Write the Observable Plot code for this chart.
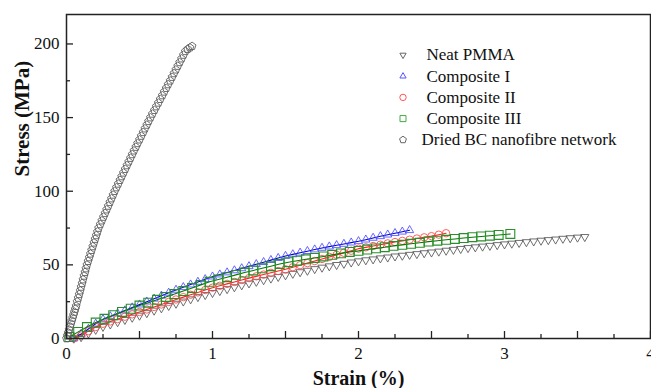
<!DOCTYPE html>
<html>
<head>
<meta charset="utf-8">
<script src="https://cdn.jsdelivr.net/npm/d3@7"></script>
<script src="https://cdn.jsdelivr.net/npm/@observablehq/plot@0.6"></script>
<style>
  html, body { margin: 0; padding: 0; background: #fff; }
  #chart { width: 651px; height: 388px; overflow: hidden; }
</style>
</head>
<body>
<div id="chart"></div>
<script>
// ---------- data ----------
const seriesNames = ["Neat PMMA", "Composite I", "Composite II", "Composite III", "Dried BC nanofibre network"];

const neatStrain = [0.05,0.10,0.15,0.20,0.25,0.30,0.35,0.40,0.45,0.50,0.55,0.60,0.65,0.70,0.75,0.80,0.85,0.90,0.95,1.00,
  1.05,1.10,1.15,1.20,1.25,1.30,1.35,1.40,1.45,1.50,1.55,1.60,1.65,1.70,1.75,1.80,1.85,1.90,1.95,2.00,
  2.05,2.10,2.15,2.20,2.25,2.30,2.35,2.40,2.45,2.50,2.55,2.60,2.65,2.70,2.75,2.80,2.85,2.90,2.95,3.00,
  3.05,3.10,3.15,3.20,3.25,3.30,3.35,3.40,3.45,3.50,3.55];
const neatStress = [0,1,3.5,6,8,9.6,11.2,12.7,14.2,15.6,17.3,19,20.6,22.2,23.7,25.2,26.7,28.2,29.6,31,
  32.3,33.6,34.9,36.2,37.5,38.6,39.7,40.8,41.9,43,44,45.1,46.1,47.2,48.2,49.1,50,50.8,51.7,52.5,
  53.2,53.8,54.5,55.1,55.8,56.3,56.9,57.4,58,58.5,59.1,59.7,60.3,60.9,61.5,62,62.5,63,63.5,64,
  64.5,65,65.5,66,66.5,66.9,67.3,67.8,68.2,68.6,69];

const c1Strain = [0.05,0.10,0.15,0.20,0.25,0.30,0.35,0.40,0.45,0.50,0.55,0.60,0.65,0.70,0.75,0.80,0.85,0.90,0.95,1.00,
  1.05,1.10,1.15,1.20,1.25,1.30,1.35,1.40,1.45,1.50,1.55,1.60,1.65,1.70,1.75,1.80,1.85,1.90,1.95,2.00,
  2.05,2.10,2.15,2.20,2.25,2.30,2.35];
const c1Stress = [0,3,6.5,10,13,15,17,19,21,23,25,27,29,31,33,34.8,36.6,38.4,40.2,42,
  43.4,44.8,46.2,47.6,49,50.4,51.8,53.2,54.6,56,57.1,58.2,59.3,60.4,61.5,62.4,63.3,64.2,65.1,66,
  67.1,68.3,69.4,70.5,71.5,72.5,73.5];

const c2Strain = [0.05,0.10,0.15,0.20,0.25,0.30,0.35,0.40,0.45,0.50,0.55,0.60,0.65,0.70,0.75,0.80,0.85,0.90,0.95,1.00,
  1.05,1.10,1.15,1.20,1.25,1.30,1.35,1.40,1.45,1.50,1.55,1.60,1.65,1.70,1.75,1.80,1.85,1.90,1.95,2.00,
  2.05,2.10,2.15,2.20,2.25,2.30,2.35,2.40,2.45,2.50,2.55,2.60];
const c2Stress = [0,2,5,7.8,10,11.6,13.2,14.8,16.4,18,19.7,21.4,23.1,24.8,26.5,28.1,29.7,31.3,32.9,34.5,
  35.8,37.1,38.4,39.7,41,42.2,43.4,44.6,45.8,47,48.4,49.8,51.2,52.6,54,55.4,56.8,58.2,59.6,61,
  61.9,62.8,63.7,64.6,65.5,66.3,67.1,67.9,68.7,69.5,70.5,71.5];

const c3Strain = [0.02,0.08,0.14,0.20,0.26,0.32,0.38,0.44,0.50,0.56,0.62,0.68,0.74,0.80,0.86,0.92,0.98,1.04,1.10,1.16,
  1.22,1.28,1.34,1.40,1.46,1.52,1.58,1.64,1.70,1.76,1.82,1.88,1.94,2.00,2.06,2.12,2.18,2.24,2.30,2.36,
  2.42,2.48,2.54,2.60,2.66,2.72,2.78,2.84,2.90,2.96,3.04];
const c3Stress = [1,4.5,7.8,10.8,13.4,15.8,18,20.2,22.4,24.3,26.3,28.2,30.2,32.2,34.3,36.4,38.5,40,41.6,43.2,
  44.8,46.2,47.7,49.1,50.6,51.8,52.8,53.8,54.7,55.7,56.8,57.8,58.8,59.5,60.4,61.2,62,62.9,63.6,64.3,
  65,65.8,66.4,67,67.6,68.2,68.8,69.3,69.8,70.3,71];

const bcStrain = [0.000,0.005,0.012,0.018,0.024,0.030,0.036,0.042,0.048,0.054,0.060,0.066,0.073,0.080,0.087,0.094,0.100,0.107,0.113,0.120,
  0.127,0.133,0.140,0.148,0.156,0.164,0.172,0.180,0.188,0.196,0.204,0.212,0.220,0.231,0.242,0.253,0.264,0.275,0.286,0.297,
  0.308,0.319,0.330,0.342,0.354,0.366,0.378,0.390,0.402,0.414,0.426,0.438,0.450,0.462,0.475,0.487,0.500,0.512,0.525,0.537,
  0.550,0.562,0.575,0.588,0.602,0.615,0.629,0.642,0.656,0.669,0.683,0.696,0.710,0.723,0.736,0.749,0.762,0.775,0.788,0.801,
  0.814,0.830,0.845,0.860];
const bcStress = [0,2,4,6,8,10,12,14,16,18,20,22,25,27.5,30,32.5,35,37.5,40,42.5,
  45,47.5,50,52.5,55,57.5,60,62.5,65,67.5,70,72.5,75,77.5,80,82.5,85,87.5,90,92.5,
  95,97.5,100,102.5,105,107.5,110,112.5,115,117.5,120,122.5,125,127.5,130,132.5,135,137.5,140,142.5,
  145,147.5,150,152.5,155,157.5,160,162.5,165,167.5,170,172.5,175,177.5,180,182.5,185,187.5,190,192.5,
  195,196.5,197.5,198.5];

const xLabelTicks = [0, 1, 2, 3, 4];
const xMajorTicks = [0, 0.5, 1, 1.5, 2, 2.5, 3, 3.5, 4];
const xMinorTicks = [0.25, 0.75, 1.25, 1.75, 2.25, 2.75, 3.25, 3.75];
const yLabelTicks = [0, 50, 100, 150, 200];
const yMinorTicks = [25, 75, 125, 175];

// ---------- helpers ----------
const zip = (xs, ys) => xs.map((x, i) => ({strain: x, stress: ys[i]}));
const neat = zip(neatStrain, neatStress);
const c1 = zip(c1Strain, c1Stress);
const c2 = zip(c2Strain, c2Stress);
const c3 = zip(c3Strain, c3Stress);
const bc = zip(bcStrain, bcStress);

function polygon(n, rot) {
  return {
    draw(ctx, size) {
      const r = Math.sqrt(size / Math.PI);
      for (let i = 0; i < n; ++i) {
        const a = rot + i * 2 * Math.PI / n;
        const px = r * Math.sin(a), py = -r * Math.cos(a);
        if (i === 0) ctx.moveTo(px, py); else ctx.lineTo(px, py);
      }
      ctx.closePath();
    }
  };
}
const triDown = polygon(3, Math.PI);
const triUp = polygon(3, 0);
const pentagon = polygon(5, 0);

const styles = [
  {data: neat, symbol: triDown, r: 4.7, stroke: "#555", sw: 0.85, line: null},
  {data: c1, symbol: triUp, r: 4.7, stroke: "#4a4aff", sw: 0.85, line: "#0000d0"},
  {data: c2, symbol: "circle", r: 3.7, stroke: "#ff4545", sw: 0.85, line: "#ff2020"},
  {data: c3, symbol: "square", r: 5, stroke: "#2a8f2a", sw: 1.1, line: "#007a00"},
  {data: bc, symbol: pentagon, r: 4.1, stroke: "#5f5f5f", sw: 0.9, line: null}
];

const font = "'Liberation Serif', 'Times New Roman', Times, serif";

const marks = [];
styles.forEach(s => {
  if (s.line) marks.push(Plot.line(s.data, {x: "strain", y: "stress", stroke: s.line, strokeWidth: 1.1}));
  marks.push(Plot.dot(s.data, {x: "strain", y: "stress", symbol: s.symbol, r: s.r, stroke: s.stroke, strokeWidth: s.sw, fill: "none"}));
});

// frame & axes (inward ticks)
marks.push(Plot.frame({stroke: "#222", strokeWidth: 1.5}));
marks.push(Plot.axisX(xMajorTicks, {tickSize: -7, tickFormat: () => "", label: null, stroke: "#222", strokeWidth: 1.3}));
marks.push(Plot.axisX(xMinorTicks, {tickSize: -4, tickFormat: () => "", label: null, stroke: "#222", strokeWidth: 1.3}));
marks.push(Plot.axisX(xLabelTicks, {tickSize: 0, tickPadding: 8, tickFormat: d => String(d), label: null, fontSize: 17, fill: "#111"}));
marks.push(Plot.axisY(yLabelTicks, {tickSize: -7, tickFormat: () => "", label: null, stroke: "#222", strokeWidth: 1.3}));
marks.push(Plot.axisY(yMinorTicks, {tickSize: -4, tickFormat: () => "", label: null, stroke: "#222", strokeWidth: 1.3}));
marks.push(Plot.axisY(yLabelTicks, {tickSize: 0, tickPadding: 7, tickFormat: d => String(d), label: null, fontSize: 17, fill: "#111"}));

// axis titles
marks.push(Plot.text(["Stress (MPa)"], {frameAnchor: "left", dx: -44, rotate: -90, fontSize: 21, fontWeight: "bold", fill: "#111"}));
marks.push(Plot.text(["Strain (%)"], {frameAnchor: "bottom", dy: 46, fontSize: 20, fontWeight: "bold", fill: "#111", lineAnchor: "bottom"}));

// legend inside the frame
const legendSymbols = [
  {symbol: triDown, r: 3.6, stroke: "#666"},
  {symbol: triUp, r: 3.6, stroke: "#5555ff"},
  {symbol: "circle", r: 3.2, stroke: "#ff5555"},
  {symbol: "square", r: 3.4, stroke: "#44aa44"},
  {symbol: pentagon, r: 3.6, stroke: "#666"}
];
seriesNames.forEach((name, i) => {
  const dy = 40.5 + i * 21.2;
  const ls = legendSymbols[i];
  marks.push(Plot.dot([name], {frameAnchor: "top-left", dx: 336.5, dy, symbol: ls.symbol, r: ls.r, stroke: ls.stroke, strokeWidth: 1, fill: "none"}));
  marks.push(Plot.text([name], {frameAnchor: "top-left", dx: i === 4 ? 355 : 360, dy, textAnchor: "start", lineAnchor: "middle", fontSize: 17, fill: "#111"}));
});

const chart = Plot.plot({
  width: 651,
  height: 388,
  marginLeft: 66,
  marginRight: 1,
  marginTop: 14,
  marginBottom: 50,
  x: {domain: [0, 4], axis: null, label: null},
  y: {domain: [0, 220], axis: null, label: null},
  style: {fontFamily: font, background: "#fff", overflow: "visible"},
  marks
});
document.getElementById("chart").appendChild(chart);
</script>
</body>
</html>
